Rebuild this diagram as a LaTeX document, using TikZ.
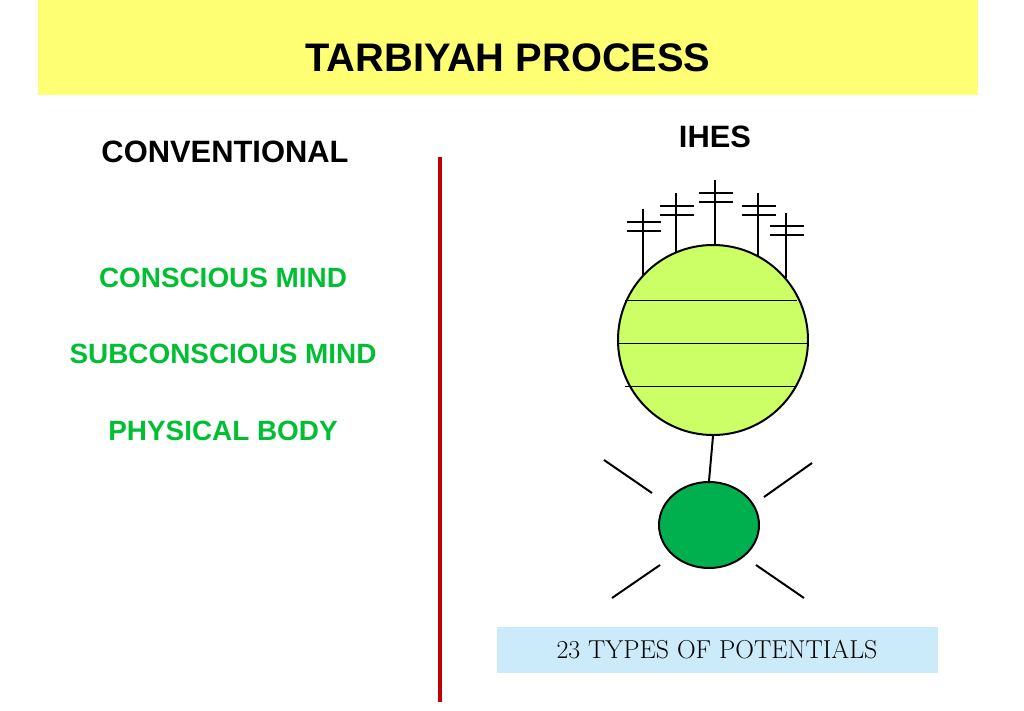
\documentclass[tikz,border=0pt]{standalone}
\usepackage{fontspec}
\setsansfont{Liberation Sans}
\usetikzlibrary{positioning,shapes.geometric}
\definecolor{bannercolor}{rgb}{1.0,1.0,0.45}
\definecolor{headgreen}{rgb}{0.0,0.75,0.2}
\definecolor{globecolor}{rgb}{0.8,1.0,0.4}
\definecolor{seedcolor}{rgb}{0.0,0.69,0.31}
\definecolor{labelcolor}{rgb}{0.8,0.92,0.98}
\definecolor{dividercolor}{rgb}{0.75,0.0,0.0}
\tikzset{
  headtext/.style={font=\sffamily\bfseries\fontsize{31}{36}\selectfont},
  greentext/.style={font=\sffamily\bfseries\fontsize{28}{32}\selectfont,text=headgreen},
  ray/.style={line width=2pt},
}
\begin{document}
\begin{tikzpicture}[x=1bp,y=-1bp]
  \path[use as bounding box] (0,0) rectangle (1024,711);
  \fill[bannercolor] (38,0) rectangle (978,95);
  \node (title) at (508,58) [font=\sffamily\bfseries\fontsize{40}{46}\selectfont] {TARBIYAH PROCESS};
  \node (conv) at (225,152) [headtext] {CONVENTIONAL};
  \node (ihes) at (715,137) [headtext] {IHES};
  \node (conscious) at (223,278) [greentext] {CONSCIOUS MIND};
  \node (subconscious) at (223,354) [greentext] {SUBCONSCIOUS MIND};
  \node (physical) at (223,431) [greentext] {PHYSICAL BODY};
  \coordinate (divtop) at (440,157);
  \coordinate (divbot) at (440,702);
  \draw[dividercolor,line width=4.5pt] (divtop) -- (divbot);
  % antennas
  \foreach \x/\t/\b in {643/209/275,676/193/260,715/180/247,758/193/258,786/213/278}{
    \draw[line width=1.3pt] (\x,\t) -- (\x,\b);
    \draw[line width=1.3pt] (\x-16,\t+13) -- (\x+18,\t+13);
    \draw[line width=1.3pt] (\x-16,\t+22) -- (\x+18,\t+22);
  }
  % globe
  \node (globe) at (713,340) [circle,draw,line width=2pt,fill=globecolor,minimum size=190bp,inner sep=0pt] {};
  \draw[line width=1pt] (625,300) -- (797,300);
  \draw[line width=1pt] (618,343) -- (808,343);
  \draw[line width=1pt] (625,386) -- (797,386);
  \node (seed) at (709,525) [ellipse,draw,line width=2pt,fill=seedcolor,minimum width=100bp,minimum height=86bp,inner sep=0pt] {};
  \draw[line width=2pt] (globe.south) -- (seed.north);
  \draw[ray] (604,460) -- (652,493);
  \draw[ray] (812,463) -- (764,497);
  \draw[ray] (660,565) -- (612,598);
  \draw[ray] (756,565) -- (804,598);
  \node (potentials) at (717,650) [fill=labelcolor,minimum width=441bp,minimum height=46bp,font=\fontsize{26}{30}\selectfont] {23 TYPES OF POTENTIALS};
\end{tikzpicture}
\end{document}
